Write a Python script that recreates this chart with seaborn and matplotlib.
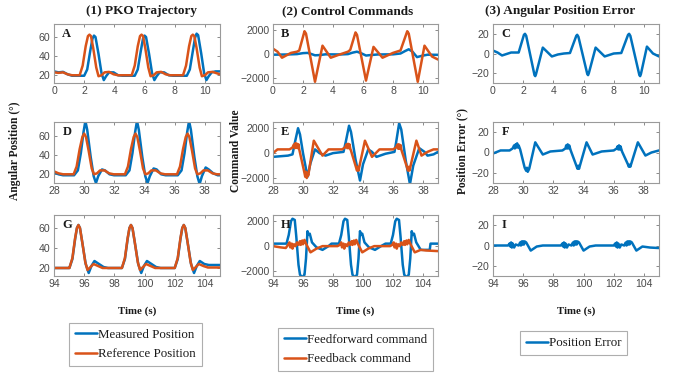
import matplotlib
matplotlib.use("Agg")
import matplotlib.pyplot as plt
import seaborn as sns
import pandas as pd
from matplotlib.lines import Line2D

# ---------------- data (time, value) ----------------
A_meas = [(0, 24), (0.3, 23), (0.6, 23.5), (0.9, 21), (1.2, 19.5),
          (2.00, 19.5), (2.20, 26), (2.40, 45), (2.55, 58), (2.65, 61), (2.75, 59.5), (2.95, 42), (3.15, 22), (3.30, 15), (3.45, 19), (3.65, 23), (3.95, 23), (4.25, 20), (4.55, 19.5),
          (5.35, 19.5), (5.55, 26), (5.75, 45), (5.90, 58), (6.00, 61), (6.10, 59.5), (6.30, 42), (6.50, 22), (6.65, 15), (6.80, 19), (7.00, 23), (7.30, 23), (7.60, 20), (7.90, 19.5),
          (8.80, 19.5), (9.00, 26), (9.20, 45), (9.35, 59), (9.45, 63), (9.55, 61.5), (9.75, 43), (9.95, 22), (10.10, 15), (10.25, 19), (10.45, 23), (10.7, 24), (11.0, 24)]
A_ref = [(0, 23), (0.3, 22.5), (0.6, 23), (0.9, 21), (1.2, 20),
         (1.70, 20), (1.90, 30), (2.10, 50), (2.25, 60.5), (2.35, 62), (2.45, 60.5), (2.60, 48), (2.80, 28), (2.95, 19), (3.15, 20), (3.35, 23), (3.65, 23.5), (3.95, 21), (4.25, 20),
         (5.15, 20), (5.35, 30), (5.55, 50), (5.70, 60.5), (5.80, 62), (5.90, 60.5), (6.05, 48), (6.25, 28), (6.40, 19), (6.60, 20), (6.80, 23), (7.10, 23.5), (7.40, 21), (7.70, 20),
         (8.55, 20), (8.75, 30), (8.95, 50), (9.10, 60.5), (9.20, 62), (9.30, 60.5), (9.45, 48), (9.65, 28), (9.80, 19), (10.0, 20), (10.2, 23), (10.5, 23.5), (10.8, 22), (11.0, 21)]

B_ff = [(0, -50), (1.0, -30), (1.6, 0), (2.0, 80), (2.3, 100), (2.5, 30), (2.8, -100), (3.1, -80), (3.5, -20), (4.5, -30),
        (5.0, 0), (5.3, 120), (5.6, 200), (5.9, 60), (6.2, -120), (6.5, -80), (7.0, -30), (8.0, -20), (8.5, 50),
        (8.8, 250), (9.05, 400), (9.3, 200), (9.6, -250), (9.9, -150), (10.3, -50), (11, -60)]
B_fb = [(0, 450), (0.3, 200), (0.6, -300), (0.9, -100), (1.2, 100), (1.6, 200), (1.75, 300), (2.1, 1900), (2.2, 1700),
        (2.8, -2300), (3.3, 700), (3.85, -300), (4.4, -50), (5.0, 200), (5.15, 350), (5.5, 1800), (5.6, 1600),
        (6.2, -2200), (6.7, 600), (7.3, -300), (8.0, 100), (8.5, 300), (8.95, 1900), (9.05, 1700),
        (9.65, -2300), (10.1, 700), (10.6, -200), (11, -450)]

C_err = [(0, 3), (0.3, 1), (0.6, -2), (1.0, 0), (1.2, 1), (1.7, 1), (2.05, 19), (2.12, 20), (2.2, 18),
         (2.75, -22), (2.8, -23), (2.85, -21), (3.3, 6), (3.9, -3), (4.3, -1), (4.7, 0), (5.1, 0.5),
         (5.52, 18), (5.58, 19), (5.66, 17), (6.25, -21), (6.3, -22), (6.35, -20), (6.8, 6), (7.4, -3), (8.0, 0), (8.5, 0.5),
         (8.95, 19), (9.02, 20), (9.1, 18), (9.7, -22), (9.75, -23), (9.8, -21), (10.2, 7), (10.6, 0), (11, -3)]

D_meas = [(28, 22), (28.3, 20), (28.6, 19),
          (29.33, 19), (29.58, 24), (29.78, 42), (29.96, 64), (30.08, 75), (30.20, 66), (30.43, 38), (30.63, 18), (30.78, 11), (30.93, 18), (31.18, 25), (31.38, 24), (31.68, 20), (31.98, 19),
          (32.75, 19), (33.00, 24), (33.20, 42), (33.38, 64), (33.50, 75), (33.62, 66), (33.85, 38), (34.05, 18), (34.20, 11), (34.35, 18), (34.60, 26), (34.80, 25), (35.10, 20), (35.40, 19),
          (36.20, 19), (36.45, 24), (36.65, 42), (36.83, 64), (36.95, 75), (37.07, 66), (37.30, 38), (37.50, 18), (37.65, 10), (37.80, 18), (38.05, 27), (38.25, 25), (38.55, 21), (38.85, 19), (39.0, 19)]
D_ref = [(28, 23), (28.3, 21), (28.6, 20),
         (29.30, 20), (29.50, 28), (29.70, 46), (29.88, 58.5), (30.00, 62), (30.12, 58.5), (30.30, 44), (30.50, 26), (30.65, 20), (30.85, 21), (31.05, 24), (31.35, 24), (31.65, 21), (31.95, 20),
         (32.70, 20), (32.90, 28), (33.10, 46), (33.28, 58.5), (33.40, 62), (33.52, 58.5), (33.70, 44), (33.90, 26), (34.05, 20), (34.25, 21), (34.45, 24), (34.75, 24), (35.05, 21), (35.35, 20),
         (36.15, 20), (36.35, 28), (36.55, 46), (36.73, 58.5), (36.85, 62), (36.97, 58.5), (37.15, 44), (37.35, 26), (37.50, 20), (37.70, 21), (37.90, 24), (38.20, 24), (38.50, 21), (38.80, 20), (39.0, 20)]

E_ff = [(28, -300), (28.5, -250), (29.0, -200), (29.3, -100), (29.45, 800), (29.67, 2000), (29.8, 1500), (30.0, 0),
        (30.3, -1900), (30.5, -800), (30.8, 300), (31.1, 0), (31.5, -200), (32.0, 0), (32.7, 100), (32.85, 900),
        (33.07, 2200), (33.2, 1700), (33.5, -500), (33.8, -2200), (34.0, -900), (34.35, 300), (34.6, 100), (34.9, -300),
        (35.5, -50), (36.1, 100), (36.2, 800), (36.41, 2400), (36.55, 1900), (36.85, -600), (37.13, -2500), (37.35, -1000),
        (37.75, 400), (38.1, 100), (38.3, -200), (38.7, -100), (39.0, 100)]
E_fb = [(28, 0), (28.3, 300), (29.1, 300), (29.3, 450), (29.4, 700), (29.45, 400), (29.5, 800), (29.55, 450), (29.6, 750),
        (29.65, 400), (29.7, 700), (29.75, 300), (30.1, -1600), (30.15, -1900), (30.2, -1500), (30.25, -2000), (30.3, -1600),
        (30.35, -1800), (30.72, 1000), (31.3, -200), (31.7, 300), (32.6, 300), (32.8, 450), (32.9, 700), (32.95, 400),
        (33.0, 750), (33.05, 400), (33.1, 700), (33.15, 350), (33.2, 200), (33.55, -1200), (33.6, -1400), (33.65, -1100),
        (33.7, -1400), (34.13, 1000), (34.6, -300), (35.1, 300), (36.0, 300), (36.2, 450), (36.3, 700), (36.35, 350),
        (36.4, 700), (36.45, 350), (36.5, 650), (36.55, 300), (36.95, -1200), (37.0, -1400), (37.05, -1100), (37.1, -1400),
        (37.56, 1000), (37.9, -200), (38.3, 100), (38.7, 300), (39.0, 300)]

F_err = [(28, -1), (28.5, 2), (29.1, 2), (29.3, 4), (29.4, 7), (29.45, 4), (29.5, 8), (29.55, 5), (29.6, 9), (29.65, 5),
         (29.7, 7), (29.8, 3), (30.1, -15), (30.2, -18), (30.25, -15), (30.3, -19), (30.4, -16), (30.8, 10), (31.3, -2),
         (31.8, 1), (32.6, 2), (32.8, 4), (32.85, 7), (32.9, 4), (32.95, 8), (33.0, 4), (33.05, 7), (33.15, 2), (33.55, -14),
         (33.6, -16), (33.65, -13), (33.7, -16), (34.2, 10), (34.6, -2), (35.2, 1), (36.0, 2), (36.2, 4), (36.25, 6), (36.3, 3),
         (36.35, 7), (36.4, 3), (36.45, 6), (36.55, 1), (36.95, -12), (37.0, -14), (37.05, -12), (37.1, -14), (37.6, 10),
         (38.1, -3), (38.5, 0), (39, 2)]

G_meas = [(94, 20), (95.0, 20),
          (95.02, 20), (95.22, 29), (95.40, 49), (95.52, 60), (95.62, 63), (95.72, 60), (95.88, 45), (96.10, 24), (96.30, 15), (96.48, 22), (96.68, 27), (96.98, 24), (97.28, 21), (97.58, 20),
          (98.50, 20), (98.70, 29), (98.88, 49), (99.00, 60), (99.10, 63), (99.20, 60), (99.36, 45), (99.58, 24), (99.78, 15), (99.96, 22), (100.16, 27), (100.46, 24), (100.76, 21), (101.06, 20),
          (102.00, 20), (102.20, 29), (102.38, 49), (102.50, 60), (102.60, 63), (102.70, 60), (102.86, 45), (103.08, 24), (103.28, 15), (103.46, 22), (103.66, 27), (103.96, 24), (104.26, 23), (105, 23)]
G_ref = [(94, 20), (95.0, 20),
         (95.02, 20), (95.22, 30), (95.40, 50), (95.52, 60), (95.62, 63), (95.72, 60), (95.87, 46), (96.07, 26), (96.22, 18), (96.42, 21), (96.62, 24), (96.92, 22), (97.22, 20),
         (98.50, 20), (98.70, 30), (98.88, 50), (99.00, 60), (99.10, 63), (99.20, 60), (99.35, 46), (99.55, 26), (99.70, 18), (99.90, 21), (100.10, 24), (100.40, 22), (100.70, 20),
         (102.00, 20), (102.20, 30), (102.38, 50), (102.50, 60), (102.60, 63), (102.70, 60), (102.85, 46), (103.05, 26), (103.20, 18), (103.40, 21), (103.60, 24), (103.90, 22), (104.20, 20.5), (105, 20.5)]

H_ff = [(94, 200), (94.9, 200), (95.05, 900), (95.2, 2000), (95.3, 2200), (95.45, 2100), (95.55, 800), (95.7, -1500),
        (95.8, -2300), (95.95, -2500), (96.1, -2300), (96.2, -1000), (96.3, 1200), (96.35, 900), (96.45, 1000), (96.6, 300),
        (96.9, -100), (97.3, -300), (97.7, 0), (97.9, 200), (98.4, 200), (98.55, 900), (98.7, 2000), (98.8, 2200),
        (98.95, 2100), (99.05, 800), (99.2, -1500), (99.3, -2300), (99.45, -2500), (99.6, -2300), (99.7, -1000),
        (99.8, 1200), (99.85, 900), (99.95, 1000), (100.1, 300), (100.4, -100), (100.8, -300), (101.2, 0), (101.5, 200),
        (101.85, 200), (102.0, 900), (102.15, 2000), (102.25, 2200), (102.4, 2100), (102.5, 800), (102.65, -1500),
        (102.75, -2300), (102.9, -2500), (103.05, -2300), (103.15, -1000), (103.25, 1200), (103.3, 900), (103.4, 1000),
        (103.55, 300), (103.85, -300), (104.45, -300), (104.5, 200), (105, 200)]
H_fb = [(94, 0), (94.5, -100), (94.85, -150), (95.0, 100), (95.1, 300), (95.15, -100), (95.25, 200), (95.3, -200),
        (95.4, 150), (95.5, 0), (95.6, 300), (95.7, 100), (95.8, 400), (95.85, 100), (95.95, 450), (96.0, 150),
        (96.1, 500), (96.2, 200), (96.5, -500), (96.9, -200), (97.3, 0), (98.3, 0), (98.45, 100), (98.55, 300),
        (98.6, -100), (98.7, 200), (98.75, -200), (98.85, 150), (98.95, 0), (99.05, 300), (99.15, 100), (99.25, 400),
        (99.3, 100), (99.4, 450), (99.45, 150), (99.55, 500), (99.65, 200), (99.95, -500), (100.35, -200), (100.75, 0),
        (101.8, 0), (101.95, 100), (102.05, 300), (102.1, -100), (102.2, 200), (102.25, -200), (102.35, 150),
        (102.45, 0), (102.55, 300), (102.65, 100), (102.75, 400), (102.8, 100), (102.9, 450), (102.95, 150),
        (103.05, 500), (103.15, 200), (103.45, -500), (103.85, -300), (104.2, -350), (105, -400)]

I_err = [(94, 0), (95.0, 0), (95.1, 2), (95.15, -1), (95.2, 3), (95.25, -2), (95.3, 2), (95.4, -2), (95.5, 1), (95.7, 0),
         (95.8, 3), (95.85, 0), (95.9, 4), (95.95, 1), (96.0, 4), (96.05, 1), (96.1, 4), (96.2, 3), (96.5, -5), (96.9, -1),
         (97.3, 0), (98.5, 0), (98.6, 2), (98.65, -1), (98.7, 3), (98.75, -2), (98.8, 2), (98.9, -2), (99.0, 1), (99.2, 0),
         (99.3, 3), (99.35, 0), (99.4, 4), (99.45, 1), (99.5, 4), (99.55, 1), (99.6, 4), (99.7, 3), (100.0, -5), (100.4, -1),
         (100.8, 0), (102.0, 0), (102.1, 2), (102.15, -1), (102.2, 3), (102.25, -2), (102.3, 2), (102.4, -2), (102.5, 1),
         (102.7, 0), (102.8, 3), (102.85, 0), (102.9, 4), (102.95, 1), (103.0, 4), (103.05, 1), (103.1, 4), (103.2, 3),
         (103.5, -5), (103.9, -1), (104.4, -2), (105, -2.5)]

col_titles = ["(1) PKO Trajectory", "(2) Control Commands", "(3) Angular Position Error"]
ylabels = ["Angular Position (°)", "Command Value", "Position Error (°)"]
panel_letters = [["A", "B", "C"], ["D", "E", "F"], ["G", "H", "I"]]
xlims = [(0, 11), (28, 39), (94, 105)]
xticks = [[0, 2, 4, 6, 8, 10], [28, 30, 32, 34, 36, 38], [94, 96, 98, 100, 102, 104]]
legend_labels = [["Measured Position", "Reference Position"],
                 ["Feedforward command", "Feedback command"],
                 ["Position Error"]]

BLUE = "#0072BD"
ORANGE = "#D95319"

# ---------------- figure ----------------
sns.set_style("ticks")
plt.rcParams["font.family"] = ["Liberation Sans", "DejaVu Sans"]

fig = plt.figure(figsize=(6.76, 3.74), dpi=100)
W, H = 676.0, 374.0
col_x = [(54, 220), (273, 438), (493, 659)]
row_y = [(24, 83), (122, 183), (215, 276)]

series = [
    [[(A_meas, BLUE), (A_ref, ORANGE)], [(B_ff, BLUE), (B_fb, ORANGE)], [(C_err, BLUE)]],
    [[(D_meas, BLUE), (D_ref, ORANGE)], [(E_ff, BLUE), (E_fb, ORANGE)], [(F_err, BLUE)]],
    [[(G_meas, BLUE), (G_ref, ORANGE)], [(H_ff, BLUE), (H_fb, ORANGE)], [(I_err, BLUE)]],
]
ylims_col = [None, (-2400, 2500), (-30, 30)]
ylims_col1 = [(12, 73), (11, 74), (12, 73)]
yticks_col = [[20, 40, 60], [-2000, 0, 2000], [-20, 0, 20]]

serif = ["Liberation Serif", "DejaVu Serif"]
frame_col = "#9a9a9a"

for r in range(3):
    for c in range(3):
        x0, x1 = col_x[c]
        y0, y1 = row_y[r]
        ax = fig.add_axes([x0 / W, 1 - y1 / H, (x1 - x0) / W, (y1 - y0) / H])
        for data, colr in series[r][c]:
            df = pd.DataFrame(data, columns=["t", "v"])
            sns.lineplot(data=df, x="t", y="v", ax=ax, color=colr, lw=1.8,
                         estimator=None, sort=False, legend=False)
        ax.set_xlim(*xlims[r])
        ax.set_ylim(*(ylims_col1[r] if c == 0 else ylims_col[c]))
        ax.set_xticks(xticks[r])
        ax.set_yticks(yticks_col[c])
        ax.set_xlabel("")
        ax.set_ylabel("")
        ax.tick_params(direction="in", top=True, right=True, length=2.5, width=0.6,
                       color="#777777", labelsize=7.6, labelcolor="#4a4a4a", pad=2.5)
        for sp in ax.spines.values():
            sp.set_color(frame_col)
            sp.set_linewidth(0.8)
        ax.text(0.05, 0.93, panel_letters[r][c], transform=ax.transAxes, ha="left", va="top",
                family=serif, fontweight="bold", fontsize=9, color="#1a1a1a")

# column titles
title_x = [142, 348, 560]
for c in range(3):
    fig.text(title_x[c] / W, 1 - 11 / H, col_titles[c], ha="center", va="center",
             family=serif, fontweight="bold", fontsize=9.5, color="#1a1a1a")
    fig.text((col_x[c][0] + col_x[c][1]) / 2 / W, 1 - 311 / H, "Time (s)", ha="center", va="center",
             family=serif, fontweight="bold", fontsize=7.8, color="#1a1a1a")

# y labels
ylab_x = [15, 236, 462]
for c in range(3):
    fig.text(ylab_x[c] / W, 1 - 151 / H, ylabels[c], rotation=90, ha="center", va="center",
             family=serif, fontweight="bold", fontsize=8.3, color="#1a1a1a")

# legends
leg_centers = [(135.5, 344.5), (355.5, 349.5), (573.5, 343)]
leg_colors = [[BLUE, ORANGE], [BLUE, ORANGE], [BLUE]]
for c in range(3):
    handles = [Line2D([0], [0], color=col, lw=1.8) for col in leg_colors[c]]
    leg = fig.legend(handles, legend_labels[c], loc="center",
                     bbox_to_anchor=(leg_centers[c][0] / W, 1 - leg_centers[c][1] / H),
                     prop={"family": serif, "size": 9.3}, frameon=True, fancybox=False,
                     handlelength=1.7, handletextpad=0.1, labelspacing=0.6,
                     borderpad=0.45, borderaxespad=0)
    leg.get_frame().set_edgecolor(frame_col)
    leg.get_frame().set_linewidth(0.8)
    for t in leg.get_texts():
        t.set_color("#1a1a1a")

fig.savefig("out.png", dpi=100)
